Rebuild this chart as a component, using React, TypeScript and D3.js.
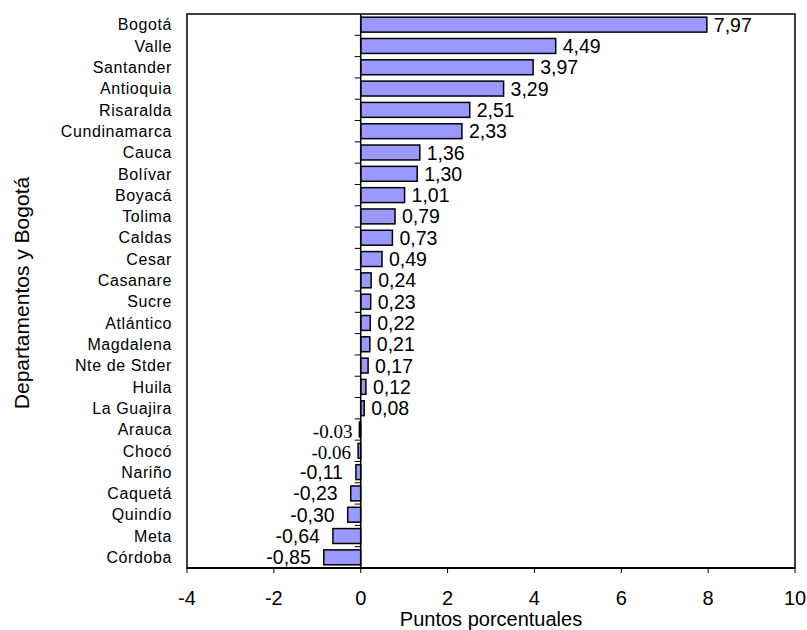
import React from "react";
import * as d3 from "d3";

const categories = [
  "Bogotá", "Valle", "Santander", "Antioquia", "Risaralda", "Cundinamarca",
  "Cauca", "Bolívar", "Boyacá", "Tolima", "Caldas", "Cesar", "Casanare",
  "Sucre", "Atlántico", "Magdalena", "Nte de Stder", "Huila", "La Guajira",
  "Arauca", "Chocó", "Nariño", "Caquetá", "Quindío", "Meta", "Córdoba",
];
const values = [
  7.97, 4.49, 3.97, 3.29, 2.51, 2.33, 1.36, 1.3, 1.01, 0.79, 0.73, 0.49, 0.24,
  0.23, 0.22, 0.21, 0.17, 0.12, 0.08, -0.03, -0.06, -0.11, -0.23, -0.3, -0.64,
  -0.85,
];
const valueLabels = [
  "7,97", "4,49", "3,97", "3,29", "2,51", "2,33", "1,36", "1,30", "1,01",
  "0,79", "0,73", "0,49", "0,24", "0,23", "0,22", "0,21", "0,17", "0,12",
  "0,08", "-0.03", "-0.06", "-0,11", "-0,23", "-0,30", "-0,64", "-0,85",
];
const xTicks = [-4, -2, 0, 2, 4, 6, 8, 10];
const xTitle = "Puntos porcentuales";
const yTitle = "Departamentos y Bogotá";

const W = 807;
const H = 630;
const plot = { left: 187, right: 795, top: 14, bottom: 568 };
const sans = "Liberation Sans, Arial, sans-serif";
const serif = "Liberation Serif, DejaVu Serif, serif";

export default function App() {
  const x = d3.scaleLinear().domain([-4, 10]).range([plot.left, plot.right]);
  const y = d3
    .scaleBand<string>()
    .domain(categories)
    .range([plot.top, plot.bottom])
    .paddingInner(0.3)
    .paddingOuter(0.15);
  const step = y.step();
  const x0 = x(0);
  const boundaries = d3.range(1, categories.length).map((i) => plot.top + i * step);

  return (
    <svg
      width={W}
      height={H}
      style={{ position: "absolute", left: 0, top: 0, background: "#fff" }}
    >
      <rect x={0} y={0} width={W} height={H} fill="#fff" />
      <rect
        x={plot.left}
        y={plot.top}
        width={plot.right - plot.left}
        height={plot.bottom - plot.top}
        fill="none"
        stroke="#000"
        strokeWidth={1.5}
      />
      {values.map((v, i) => {
        const c = categories[i];
        const bx = Math.min(x(0), x(v));
        const bw = Math.abs(x(v) - x(0));
        return (
          <rect
            key={c}
            x={bx}
            y={y(c)!}
            width={bw}
            height={y.bandwidth()}
            fill="#9999FF"
            stroke="#000"
            strokeWidth={1.5}
          />
        );
      })}
      <line x1={x0} x2={x0} y1={plot.top} y2={plot.bottom} stroke="#000" strokeWidth={1.5} />
      {boundaries.map((b, i) => (
        <line key={i} x1={x0 - 6} x2={x0} y1={b} y2={b} stroke="#000" strokeWidth={1} />
      ))}
      <line x1={plot.left} x2={plot.right} y1={plot.bottom} y2={plot.bottom} stroke="#000" strokeWidth={2} />
      {xTicks.map((t) => (
        <g key={t}>
          <line x1={x(t)} x2={x(t)} y1={plot.bottom} y2={plot.bottom + 5} stroke="#000" strokeWidth={1} />
          <text
            x={x(t)}
            y={605}
            textAnchor="middle"
            fontFamily={sans}
            fontSize={20}
            fill="#000"
          >
            {t}
          </text>
        </g>
      ))}
      {categories.map((c) => (
        <text
          key={c}
          x={172}
          y={y(c)! + y.bandwidth() / 2 + 5.7}
          textAnchor="end"
          fontFamily={sans}
          fontSize={16}
          letterSpacing={0.6}
          fill="#000"
        >
          {c}
        </text>
      ))}
      {values.map((v, i) => {
        const c = categories[i];
        const isSerif = valueLabels[i].includes(".");
        const cy = y(c)! + y.bandwidth() / 2;
        const lx = v >= 0 ? x(v) + 7 : x(v) - (isSerif ? 7 : 13);
        return (
          <text
            key={c}
            x={lx}
            y={cy + (isSerif ? 8.5 : 7)}
            textAnchor={v >= 0 ? "start" : "end"}
            fontFamily={isSerif ? serif : sans}
            fontSize={isSerif ? 19 : 19.5}
            fill="#000"
          >
            {valueLabels[i]}
          </text>
        );
      })}
      <text
        x={(plot.left + plot.right) / 2}
        y={626}
        textAnchor="middle"
        fontFamily={sans}
        fontSize={20}
        fill="#000"
      >
        {xTitle}
      </text>
      <text
        transform={`translate(29, ${(plot.top + plot.bottom) / 2 + 2}) rotate(-90)`}
        textAnchor="middle"
        fontFamily={sans}
        fontSize={21}
        fill="#000"
      >
        {yTitle}
      </text>
    </svg>
  );
}
